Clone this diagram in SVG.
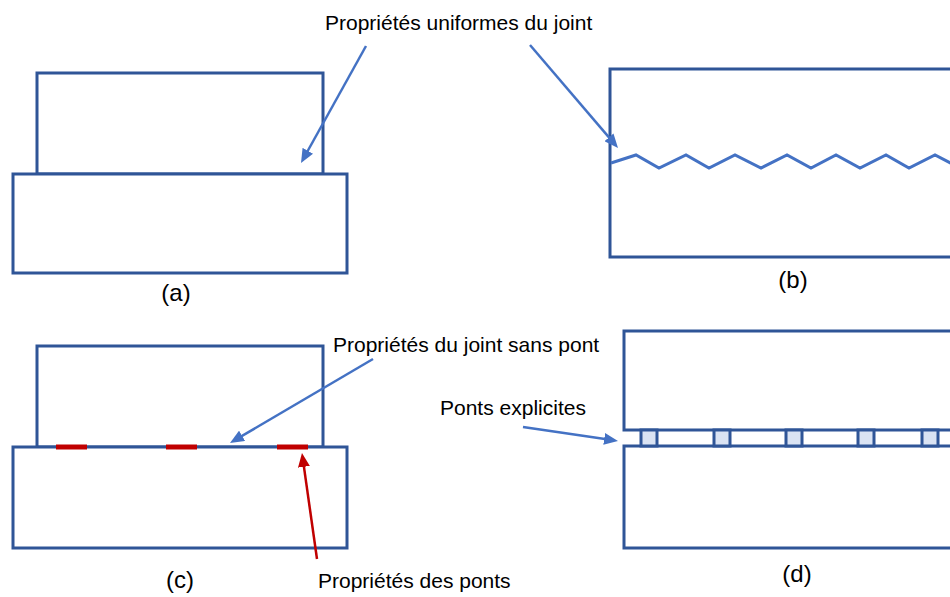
<svg xmlns="http://www.w3.org/2000/svg" width="950" height="597" viewBox="0 0 950 597">
<style>
.blk{fill:#fff;stroke:#2F5597;stroke-width:3}
.br{fill:#DAE3F3;stroke:#2F5597;stroke-width:3}
.arr{fill:none;stroke:#4472C4;stroke-width:2.5}
.rarr{fill:none;stroke:#C00000;stroke-width:2.5}
.red{stroke:#C00000;stroke-width:5}
.zz{fill:none;stroke:#4472C4;stroke-width:3;stroke-linejoin:miter}
.t{font-family:"Liberation Sans",Arial,sans-serif;font-size:21px;fill:#000}
.lbl{font-family:"Liberation Sans",Arial,sans-serif;font-size:24px;fill:#000;text-anchor:middle}
</style>
<defs>
<marker id="ab" markerUnits="userSpaceOnUse" markerWidth="14" markerHeight="12" refX="6" refY="6" orient="auto">
<path d="M0,0 L14,6 L0,12 z" fill="#4472C4"/>
</marker>
<marker id="ar" markerUnits="userSpaceOnUse" markerWidth="14" markerHeight="12" refX="6" refY="6" orient="auto">
<path d="M0,0 L14,6 L0,12 z" fill="#C00000"/>
</marker>
</defs>
<rect width="950" height="597" fill="#fff"/>

<g id="a">
<rect class="blk" x="37" y="73" width="286" height="101"/>
<rect class="blk" x="13" y="174" width="334" height="99"/>
<text class="lbl" x="176" y="301">(a)</text>
</g>

<g id="b">
<rect class="blk" x="610" y="69" width="400" height="188"/>
<polyline class="zz" points="611,163 636,155 659,168 686,155 709,168 735,155 761,168 787,155 811,168 836,155 860,168 886,155 909,168 935,155 960,168"/>
<text class="lbl" x="793" y="288">(b)</text>
</g>

<g id="c">
<rect class="blk" x="37" y="346" width="286" height="101"/>
<rect class="blk" x="13" y="447" width="334" height="101"/>
<line class="red" x1="56" y1="447" x2="87" y2="447"/>
<line class="red" x1="166" y1="447" x2="197" y2="447"/>
<line class="red" x1="277" y1="447" x2="308" y2="447"/>
<text class="lbl" x="180" y="588">(c)</text>
</g>

<g id="d">
<rect class="blk" x="624" y="331" width="400" height="99"/>
<rect class="blk" x="624" y="446" width="400" height="102"/>
<rect class="br" x="641" y="430" width="16" height="16"/>
<rect class="br" x="714" y="430" width="16" height="16"/>
<rect class="br" x="786" y="430" width="16" height="16"/>
<rect class="br" x="858" y="430" width="16" height="16"/>
<rect class="br" x="922" y="430" width="16" height="16"/>
<text class="lbl" x="797" y="582">(d)</text>
</g>

<g id="labels">
<text class="t" x="325" y="30">Propriétés uniformes du joint</text>
<text class="t" x="333" y="352">Propriétés du joint sans pont</text>
<text class="t" x="440" y="415">Ponts explicites</text>
<text class="t" x="318" y="588">Propriétés des ponts</text>
</g>

<g id="connectors">
<line class="arr" x1="366" y1="46" x2="304.9" y2="156" marker-end="url(#ab)"/>
<line class="arr" x1="530" y1="45" x2="612.8" y2="141.9" marker-end="url(#ab)"/>
<line class="arr" x1="373" y1="359" x2="236.9" y2="438.9" marker-end="url(#ab)"/>
<line class="rarr" x1="317" y1="559" x2="303.1" y2="460.9" marker-end="url(#ar)"/>
<line class="arr" x1="523" y1="427" x2="610.1" y2="439.8" marker-end="url(#ab)"/>
</g>
</svg>
